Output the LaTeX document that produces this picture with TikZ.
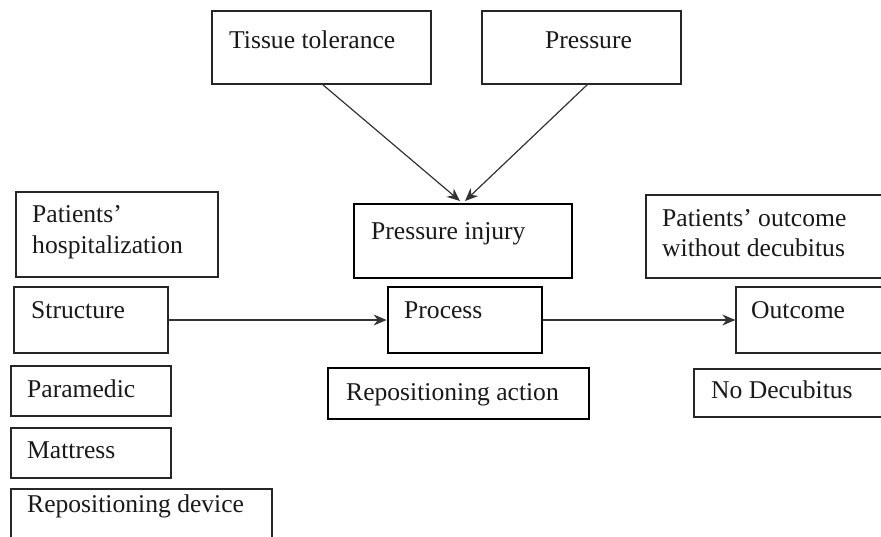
\documentclass[tikz,border=0pt]{standalone}
\usepackage{fontspec}
\setmainfont{Liberation Serif}
\usetikzlibrary{arrows.meta}
\begin{document}
\begin{tikzpicture}[x=1pt,y=-1pt,
  thinbox/.style={draw=black!85,line width=1.3pt,inner sep=0pt,rectangle},
  thickbox/.style={draw=black,line width=2.8pt,inner sep=0pt,rectangle},
  lbl/.style={anchor=base west,inner sep=0pt,font=\fontsize{25.6}{31}\selectfont,text=black!90},
  conn/.style={draw=black!80,line width=1.2pt,-{Stealth[length=13pt,width=11pt]}}]
\useasboundingbox (0,0) rectangle (881,536);
\clip (0,0) rectangle (881,536);
% boxes
\node[thinbox,minimum width=219pt,minimum height=73pt] (tissue) at (321.5,47.5) {};
\node[thinbox,minimum width=199pt,minimum height=73pt] (pressure) at (581.5,47.5) {};
\node[thickbox,minimum width=218pt,minimum height=74pt] (pinjury) at (463,241) {};
\node[thickbox,minimum width=154pt,minimum height=66pt] (process) at (465,320) {};
\node[thickbox,minimum width=261pt,minimum height=51pt] (repaction) at (458.5,393.5) {};
\node[thinbox,minimum width=202pt,minimum height=85pt] (hosp) at (117,234.5) {};
\node[thinbox,minimum width=154pt,minimum height=66pt] (structure) at (91,320) {};
\node[thinbox,minimum width=160pt,minimum height=50pt] (paramedic) at (91,391) {};
\node[thinbox,minimum width=160pt,minimum height=50pt] (mattress) at (91,453) {};
\node[thinbox,minimum width=261pt,minimum height=56pt] (repdevice) at (141.5,517) {};
\node[thinbox,minimum width=244pt,minimum height=83pt] (poutcome) at (768,236.5) {};
\node[thinbox,minimum width=154pt,minimum height=66pt] (outcome) at (813,320) {};
\node[thinbox,minimum width=196pt,minimum height=48pt] (nodec) at (792,393) {};
% texts
\node[lbl] (t1) at (229,48) {Tissue tolerance};
\node[lbl] (t2) at (545,48) {Pressure};
\node[lbl] (t3) at (32,222) {Patients’};
\node[lbl] (t3b) at (32,253) {hospitalization};
\node[lbl] (t4) at (31,318) {Structure};
\node[lbl] (t5) at (27,397) {Paramedic};
\node[lbl] (t6) at (27,458) {Mattress};
\node[lbl] (t7) at (27,512) {Repositioning device};
\node[lbl] (t8) at (371,239) {Pressure injury};
\node[lbl] (t9) at (404,318) {Process};
\node[lbl] (t10) at (346,400) {Repositioning action};
\node[lbl] (t11) at (662,226) {Patients’ outcome};
\node[lbl] (t11b) at (662,256) {without decubitus};
\node[lbl] (t12) at (751,318) {Outcome};
\node[lbl] (t13) at (711,398) {No Decubitus};
% connectors
\coordinate (tin) at (460,201);
\coordinate (pin) at (465,201);
\coordinate (tout) at (322,84);
\coordinate (pout) at (588,84);
\draw[conn] (tout) -- (tin);
\draw[conn] (pout) -- (pin);
\draw[conn] (structure.east) -- (process.west);
\draw[conn] (process.east) -- (outcome.west);
\end{tikzpicture}
\end{document}
